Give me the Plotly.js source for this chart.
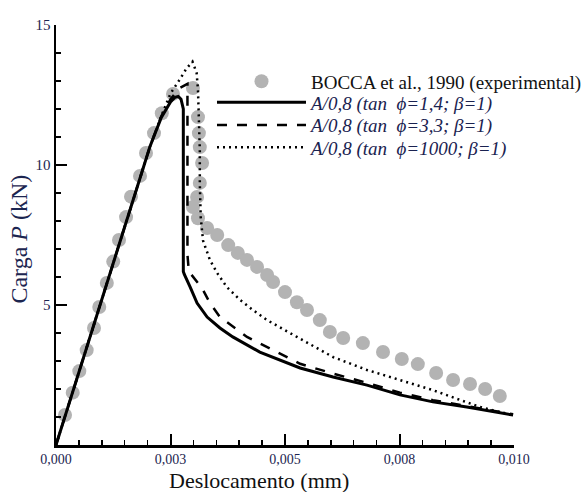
<!DOCTYPE html>
<html>
<head>
<meta charset="utf-8">
<script src="https://cdn.plot.ly/plotly-3.0.1.min.js"></script>
<style>html,body{margin:0;padding:0;background:#fff;}#chart{width:588px;height:492px;}</style>
</head>
<body>
<div id="chart"></div>
<script>
// Experimental data (BOCCA et al., 1990)
const expX = [0.000197,0.000365,0.000509,0.00067,0.00083,0.000945,0.00111,0.00125,0.001376,0.00153,0.001638,0.001834,0.001965,0.00214,0.00231,0.002555,
  0.00299,0.0031,0.00312,0.00314,0.00319,0.00314,0.00308,0.00299,0.0031,0.0033,0.00352,0.00376,0.00397,0.00417,0.00439,0.00461,0.00474,0.005,0.00526,0.00548,0.00576,0.00598,0.00627,0.0067,0.00714,0.00755,0.0079,0.0083,0.00867,0.00904,0.00937,0.00969];
const expP = [1.07,1.87,2.64,3.39,4.18,4.93,5.79,6.55,7.32,8.14,8.87,9.61,10.43,11.14,11.85,12.54,
  12.75,11.71,11.14,10.64,10.07,9.36,8.86,8.5,8.1,7.75,7.5,7.14,6.86,6.61,6.36,6.07,5.82,5.46,5.1,4.82,4.46,4.04,3.82,3.64,3.32,3.07,2.89,2.57,2.32,2.18,2.0,1.75];

// A/0,8 (tan phi = 1,4)
const s1X = [0,0.0012,0.00205,0.0023,0.0025,0.0026,0.00267,0.00273,0.00278,0.00278,0.0028,0.00293,0.00308,0.0033,0.00358,0.00386,0.00445,0.00533,0.00605,0.00679,0.00751,0.00823,0.00897,0.00998];
const s1P = [0,6.25,10.65,11.7,12.25,12.42,12.45,12.35,12.0,6.2,6.1,5.64,5.07,4.57,4.18,3.86,3.32,2.75,2.43,2.14,1.79,1.54,1.36,1.07];

// A/0,8 (tan phi = 3,3)
const s2X = [0,0.0012,0.00205,0.0023,0.0025,0.0027,0.00287,0.00287,0.0029,0.00319,0.00336,0.00358,0.00391,0.00417,0.00533,0.00605,0.00679,0.00751,0.00823,0.00897,0.00998];
const s2P = [0,6.25,10.65,11.75,12.35,12.75,12.9,6.8,6.2,5.6,5.07,4.57,4.18,3.86,2.9,2.55,2.22,1.87,1.6,1.38,1.1];

// A/0,8 (tan phi = 1000)
const s3X = [0,0.0012,0.00205,0.0023,0.00242,0.0025,0.0027,0.00285,0.00298,0.00307,0.0031,0.00312,0.00314,0.00314,0.00316,0.00321,0.00336,0.00352,0.00373,0.00402,0.0043,0.00461,0.00489,0.00526,0.00605,0.00679,0.00751,0.00823,0.00882,0.00926,0.00969,0.00998];
const s3P = [0,6.25,10.65,11.75,12.2,12.55,13.05,13.45,13.69,13.29,12.68,11.71,10.54,9.36,8.14,7.3,6.61,6.14,5.64,5.18,4.82,4.46,4.21,3.86,3.14,2.68,2.32,1.96,1.61,1.36,1.18,1.07];

const xTickVals = [0,0.0025,0.005,0.0075,0.01];
const xTickText = ['0,000','0,003','0,005','0,008','0,010'];
const yTickVals = [0,5,10,15];
const yTickText = ['','5','10','15'];

const seriesNames = [
  'BOCCA et al., 1990 (experimental)',
  '<i>A/0,8 (tan\u00a0 ϕ=1,4; β=1)</i>',
  '<i>A/0,8 (tan\u00a0 ϕ=3,3; β=1)</i>',
  '<i>A/0,8 (tan\u00a0 ϕ=1000; β=1)</i>'
];
const xTitle = 'Deslocamento (mm)';
const yTitle = 'Carga <i>P</i> (kN)';

const navy = '#1c2550';
const serif = 'Liberation Serif, Times New Roman, serif';

const traces = [
  {x: expX, y: expP, mode: 'markers', name: seriesNames[0], legend: 'legend',
   marker: {color: '#b3b3b3', size: 14, line: {width: 0}}},
  {x: s1X, y: s1P, mode: 'lines', name: seriesNames[1], legend: 'legend2',
   line: {color: '#000', width: 3}},
  {x: s2X, y: s2P, mode: 'lines', name: seriesNames[2], legend: 'legend3',
   line: {color: '#000', width: 2.5, dash: '10px,10px'}},
  {x: s3X, y: s3P, mode: 'lines', name: seriesNames[3], legend: 'legend4',
   line: {color: '#000', width: 2.5, dash: '2px,4px'}}
];

function leg(yTop, color) {
  return {x: 0.3406, y: yTop, xanchor: 'left', yanchor: 'top', bgcolor: 'rgba(0,0,0,0)',
    font: {family: serif, size: 19, color: color}, itemwidth: 89};
}

const layout = {
  width: 588, height: 492,
  margin: {l: 56, r: 74, t: 25, b: 47, autoexpand: false},
  paper_bgcolor: '#fff', plot_bgcolor: '#fff',
  showlegend: true,
  legend: leg(0.911, '#111'),
  legend2: leg(0.861, '#1a2250'),
  legend3: leg(0.807, '#1a2250'),
  legend4: leg(0.754, '#1a2250'),
  xaxis: {range: [0, 0.01], showgrid: false, zeroline: false, automargin: false,
    showline: true, linecolor: '#000', linewidth: 2.5,
    ticks: 'inside', ticklen: 11, tickwidth: 2, tickcolor: '#000',
    tickmode: 'array', tickvals: xTickVals, ticktext: xTickText,
    tickfont: {family: serif, size: 14, color: navy},
    minor: {dtick: 0.0005, tick0: 0, ticks: 'inside', ticklen: 5, tickwidth: 1.5, tickcolor: '#000'}},
  yaxis: {range: [0, 15], showgrid: false, zeroline: false, automargin: false,
    showline: true, linecolor: '#000', linewidth: 2.5,
    ticks: 'inside', ticklen: 11, tickwidth: 2, tickcolor: '#000',
    tickmode: 'array', tickvals: yTickVals, ticktext: yTickText,
    tickfont: {family: serif, size: 15, color: navy},
    minor: {dtick: 1, tick0: 0, ticks: 'inside', ticklen: 5, tickwidth: 1.5, tickcolor: '#000'}},
  annotations: [
    {text: xTitle, xref: 'paper', yref: 'paper', x: 0.443, y: -0.0845, xanchor: 'center', yanchor: 'middle',
     showarrow: false, font: {family: serif, size: 22, color: '#111'}},
    {text: yTitle, xref: 'paper', yref: 'paper', x: -0.08, y: 0.49, xanchor: 'center', yanchor: 'middle',
     textangle: -90, showarrow: false, font: {family: serif, size: 24, color: navy}}
  ]
};

Plotly.newPlot('chart', traces, layout, {displayModeBar: false, staticPlot: true});
</script>
</body>
</html>
